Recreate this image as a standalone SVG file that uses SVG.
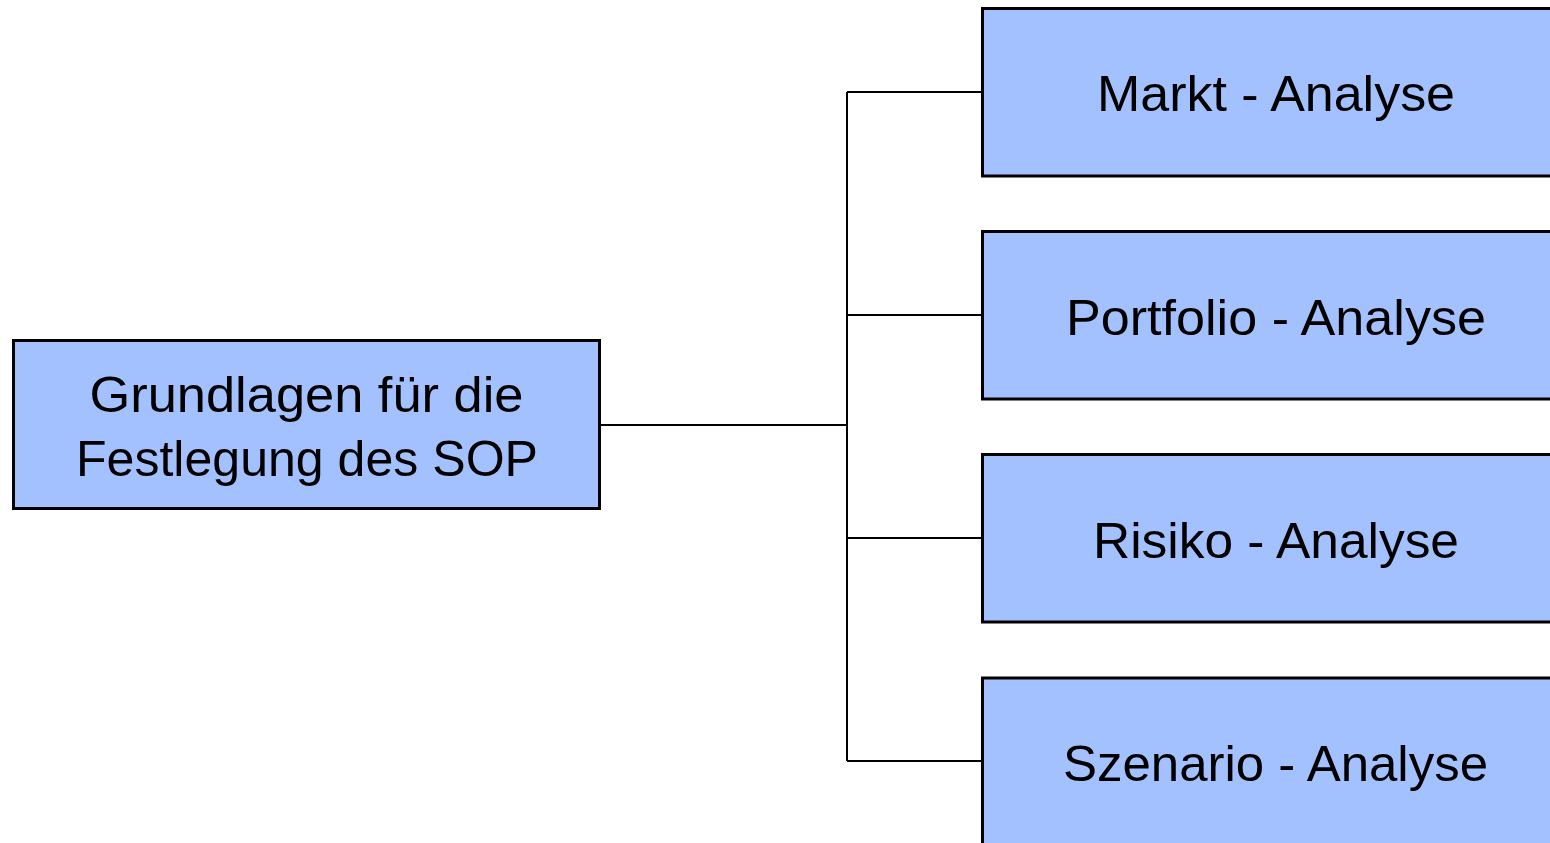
<svg xmlns="http://www.w3.org/2000/svg" width="1550" height="843" viewBox="0 0 1550 843">
  <style>
    .box { fill: #a3c1ff; stroke: #000; stroke-width: 3; }
    .lbl { font-family: "Liberation Sans", Arial, sans-serif; font-size: 50px; fill: #000; text-anchor: middle; }
    .wire { fill: none; stroke: #000; stroke-width: 2; }
  </style>
  <rect width="1550" height="843" fill="#fff"/>

  <!-- connectors: trunk from root to the four analysis boxes -->
  <g id="connectors">
    <path class="wire" d="M600 425 H847"/>
    <path class="wire" d="M847 92 V761"/>
    <path class="wire" d="M847 92 H982"/>
    <path class="wire" d="M847 315 H982"/>
    <path class="wire" d="M847 538 H982"/>
    <path class="wire" d="M847 761 H982"/>
  </g>

  <g id="root">
    <rect class="box" x="13.5" y="340.5" width="586" height="168"/>
    <text class="lbl" x="306.5" y="411.5" textLength="434" lengthAdjust="spacingAndGlyphs">Grundlagen für die</text>
    <text class="lbl" x="307" y="475.5" textLength="462" lengthAdjust="spacingAndGlyphs">Festlegung des SOP</text>
  </g>

  <g id="markt">
    <rect class="box" x="982.5" y="8.5" width="600" height="167.5"/>
    <text class="lbl" x="1276" y="111" textLength="358" lengthAdjust="spacingAndGlyphs">Markt - Analyse</text>
  </g>

  <g id="portfolio">
    <rect class="box" x="982.5" y="231.5" width="600" height="167.5"/>
    <text class="lbl" x="1276" y="334.5" textLength="420" lengthAdjust="spacingAndGlyphs">Portfolio - Analyse</text>
  </g>

  <g id="risiko">
    <rect class="box" x="982.5" y="454.5" width="600" height="167.5"/>
    <text class="lbl" x="1276" y="558" textLength="366" lengthAdjust="spacingAndGlyphs">Risiko - Analyse</text>
  </g>

  <g id="szenario">
    <rect class="box" x="982.5" y="678" width="600" height="200"/>
    <text class="lbl" x="1275.5" y="781" textLength="425" lengthAdjust="spacingAndGlyphs">Szenario - Analyse</text>
  </g>
</svg>
